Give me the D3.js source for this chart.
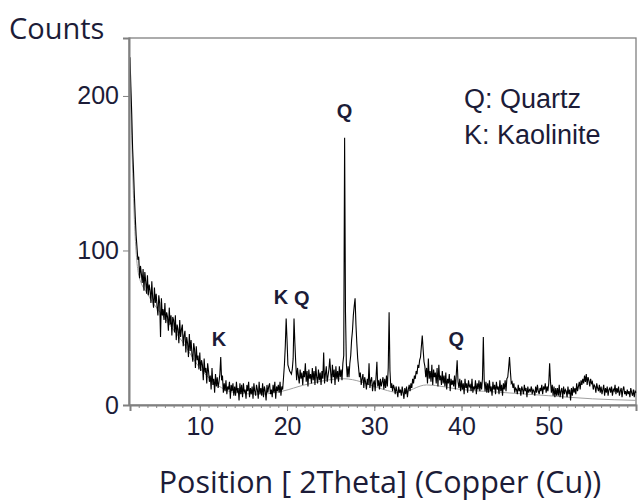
<!DOCTYPE html>
<html><head><meta charset="utf-8">
<script src="https://cdn.jsdelivr.net/npm/d3@7"></script>
<style>body{margin:0;background:#fff}svg{display:block}</style>
</head><body>
<script>
// ---- data ----
const startAngle = 2.0;   // first 2Theta
const stepAngle = 0.1;    // scan step
const counts = [
 225,206,188,166,152,136,122,110,102,94,   // 2
 96,82,90,85,79,88,74,86,80,72,            // 3
 84,71,78,74,66,80,69,63,76,66,            // 4
 72,64,58,71,66,44,69,58,62,55,            // 5
 66,53,60,57,48,63,52,58,45,57,            // 6
 55,47,58,42,52,49,40,55,44,49,            // 7
 52,38,45,48,34,44,40,31,46,35,            // 8
 42,33,28,40,36,24,38,29,32,23,            // 9
 34,22,29,26,16,30,21,24,14,27,            // 10
 22,15,19,10,24,13,17,8,20,12,             // 11
 18,11,15,20,31,16,19,8,14,9,              // 12
 16,7,12,10,15,4,13,9,14,6,                // 13
 12,6,15,8,11,3,14,7,13,5,                 // 14
 14,8,10,4,13,9,15,5,11,7,                 // 15
 12,4,14,9,6,13,10,4,15,7,                 // 16
 11,6,14,5,12,9,3,13,8,12,                 // 17
 14,7,10,5,13,8,15,4,12,9,                 // 18
 13,8,15,6,12,10,18,26,38,56,              // 19
 42,26,24,22,21,20,23,30,56,40,            // 20
 27,16,24,19,14,23,17,21,13,22,            // 21
 18,27,15,22,12,23,17,20,14,24,            // 22
 16,22,13,25,18,14,23,16,21,13,            // 23
 22,17,34,14,20,25,15,19,23,30,            // 24
 21,14,26,18,23,13,25,17,22,15,            // 25
 25,18,23,16,27,32,173,60,27,18,           // 26
 25,18,27,32,42,48,58,64,69,52,            // 27
 40,30,24,18,21,13,17,20,11,18,            // 28
 15,10,17,13,27,11,16,18,9,14,             // 29
 16,9,18,28,12,16,10,17,12,15,             // 30
 18,10,17,11,19,12,24,60,22,11,            // 31
 14,9,13,11,7,12,9,5,12,8,                 // 32
 10,6,12,8,4,11,7,12,5,10,                 // 33
 13,9,14,11,17,14,19,17,22,20,             // 34
 26,24,29,31,38,45,36,28,25,18,            // 35
 24,14,30,17,22,15,26,13,23,18,            // 36
 21,14,24,12,26,16,19,13,22,14,            // 37
 19,12,21,10,17,14,20,9,17,13,             // 38
 16,12,19,10,20,29,15,11,17,9,             // 39
 16,10,14,7,17,11,14,8,16,12,              // 40
 13,9,17,8,12,10,16,7,14,10,               // 41
 16,9,15,10,17,44,16,9,15,8,               // 42
 14,8,16,9,12,6,15,10,13,7,                // 43
 15,10,12,7,16,9,13,6,14,10,               // 44
 16,9,17,18,24,31,22,14,15,11,             // 45
 14,8,11,10,7,13,9,11,6,12,                // 46
 10,7,13,9,11,5,12,8,10,9,                 // 47
 12,7,10,9,6,12,8,13,9,7,                  // 48
 11,9,13,7,12,10,14,8,12,9,                // 49
 14,27,15,8,13,6,12,5,11,6,                // 50
 11,6,13,5,9,11,4,12,7,10,                 // 51
 9,5,12,7,10,3,11,6,12,8,                  // 52
 11,7,14,9,12,15,10,16,13,17,              // 53
 14,19,15,20,13,18,16,12,17,14,            // 54
 15,10,13,12,8,14,11,9,13,8,               // 55
 12,7,10,13,6,11,8,12,6,10,                // 56
 11,8,12,6,10,9,13,7,11,8,                 // 57
 12,6,9,11,5,10,12,7,9,6,                  // 58
 10,7,9,5,11,8,6,10,5,9,                   // 59
 8                                         // 60
];
// fitted background (thin grey line)
const bgAngle  = [2, 2.5, 3, 4, 6, 8, 10, 12, 14, 17, 19.5, 22, 26.5, 28.5, 30, 33, 36, 40, 45, 50, 55, 60];
const bgCounts = [215, 120, 84, 72, 56, 41, 24, 13, 8, 7, 9, 13, 17, 15, 12, 8, 13, 10, 8, 6, 4, 3];

const yTicks = [0, 100, 200];
const xTicks = [10, 20, 30, 40, 50];
const xMinorTicks = d3.range(3, 60, 1);

const peakText  = ["K", "K", "Q", "Q", "Q"];
const peakAngle = [12.2, 19.3, 21.7, 26.6, 39.4];
const peakCount = [43, 70, 69, 190, 43];

const legendLines = ["Q: Quartz", "K: Kaolinite"];

// ---- layout ----
const W = 638, H = 501;
const L = 130, R = 636, T = 38, B = 405;
const svg = d3.select("body").append("svg").attr("width", W).attr("height", H);

const x = d3.scaleLinear().domain([2, 60]).range([L, R]);
const y = d3.scaleLinear().domain([0, 237.5]).range([B, T]);

const textCol = "#1c1c38";
const frameCol = "#808080";

// frame
svg.append("rect").attr("x", L - 1).attr("y", T).attr("width", R - L + 1).attr("height", B - T)
  .attr("fill", "none").attr("stroke", frameCol).attr("stroke-width", 1.3);

// background line + pattern
const data = counts.map((c, i) => [startAngle + i * stepAngle, c]);
const bg = bgAngle.map((a, i) => [a, bgCounts[i]]);
svg.append("path").datum(bg)
  .attr("d", d3.line().x(d => x(d[0])).y(d => y(d[1])).curve(d3.curveMonotoneX))
  .attr("fill", "none").attr("stroke", "#a0a0a0").attr("stroke-width", 1);
svg.append("path").datum(data)
  .attr("d", d3.line().x(d => x(d[0])).y(d => y(d[1])))
  .attr("fill", "none").attr("stroke", "#000").attr("stroke-width", 1.1);

// y axis
const fontTick = "'Liberation Sans', Arial, sans-serif";
const yAxis = svg.append("g").attr("transform", `translate(${L - 1},0)`)
  .call(d3.axisLeft(y).tickValues(yTicks).tickSize(6).tickPadding(4).tickFormat(d3.format("d")));
yAxis.select(".domain").attr("stroke", frameCol).attr("stroke-width", 2);
yAxis.selectAll(".tick line").attr("stroke", frameCol);
yAxis.selectAll("text").attr("fill", textCol).style("font-family", fontTick).style("font-size", "25px");

// x axis
const xAxisMinor = svg.append("g").attr("transform", `translate(0,${B})`)
  .call(d3.axisBottom(x).tickValues(xMinorTicks).tickSize(3).tickFormat(""));
xAxisMinor.select(".domain").remove();
xAxisMinor.selectAll(".tick line").attr("stroke", "#888");
const xAxis = svg.append("g").attr("transform", `translate(0,${B})`)
  .call(d3.axisBottom(x).tickValues(xTicks).tickSize(6).tickPadding(6).tickFormat(d3.format("d")));
xAxis.select(".domain").attr("stroke", frameCol).attr("stroke-width", 2);
xAxis.selectAll(".tick line").attr("stroke", frameCol);
xAxis.selectAll("text").attr("fill", textCol).style("font-family", fontTick).style("font-size", "25px");

// titles
svg.append("text").attr("x", 9).attr("y", 39).text("Counts")
  .attr("fill", textCol).style("font-family", "'Open Sans', sans-serif").style("font-size", "29px");
svg.append("text").attr("x", 380).attr("y", 493).attr("text-anchor", "middle")
  .text("Position [ 2Theta] (Copper (Cu))")
  .attr("fill", textCol).style("font-family", "'Open Sans', sans-serif").style("font-size", "30.5px");

// peak labels
svg.selectAll(".pk").data(peakText).join("text").attr("class", "pk")
  .attr("x", (d, i) => x(peakAngle[i])).attr("y", (d, i) => y(peakCount[i]))
  .attr("text-anchor", "middle").attr("dominant-baseline", "central")
  .attr("fill", textCol).style("font-family", fontTick)
  .style("font-weight", "bold").style("font-size", "20px").text(d => d);

// legend
svg.selectAll(".lg").data(legendLines).join("text").attr("class", "lg")
  .attr("x", 464).attr("y", (d, i) => 108 + i * 36)
  .attr("fill", textCol).style("font-family", fontTick)
  .style("font-size", "27px").text(d => d);
</script>
</body></html>
